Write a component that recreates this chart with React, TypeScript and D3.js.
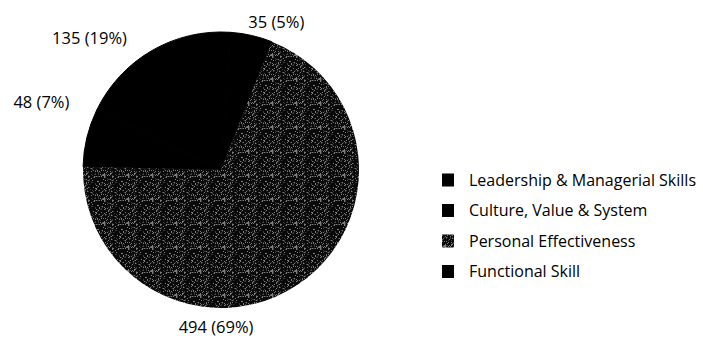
import React from "react";
import * as d3 from "d3";

const categories = [
  "Leadership & Managerial Skills",
  "Culture, Value & System",
  "Personal Effectiveness",
  "Functional Skill",
];
const values = [135, 35, 494, 48];
// fill style per category: "solid" black or "dither" grey texture
const fills = ["solid", "solid", "dither", "solid"];
// hand-placed label directions (degrees clockwise from top) and radii
const labelAngles = [324.5, 10.5, 181.8, 294];
const labelRadii = [162, 150, 157, 166];

const W = 703;
const H = 340;
const CX = 221;
const CY = 170;
const R = 138;
const START = -64.36;

function hash(i: number, j: number) {
  let h = (i * 374761393 + j * 668265263) >>> 0;
  h = ((h ^ (h >>> 13)) * 1274126177) >>> 0;
  return ((h ^ (h >>> 16)) >>> 0) / 4294967296;
}

const tile: { x: number; y: number; c: string }[] = [];
for (let i = 0; i < 24; i++) {
  for (let j = 0; j < 24; j++) {
    const v = hash(i, j);
    if (v < 0.13) tile.push({ x: i, y: j, c: "#7c7c7c" });
    else if (v < 0.25) tile.push({ x: i, y: j, c: "#3c3c3c" });
  }
}

export default function App() {
  const total = d3.sum(values);
  const pie = d3
    .pie<number>()
    .sort(null)
    .startAngle((START * Math.PI) / 180)
    .endAngle(((START + 360) * Math.PI) / 180);
  const arcs = pie(values);
  const arc = d3.arc<d3.PieArcDatum<number>>().innerRadius(0).outerRadius(R);
  const font = "'Open Sans', sans-serif";

  return (
    <svg width={W} height={H} style={{ position: "absolute", left: 0, top: 0, background: "#fff" }}>
      <defs>
        <pattern id="dither" patternUnits="userSpaceOnUse" width={24} height={24}>
          <rect width={24} height={24} fill="#0a0a0a" />
          {tile.map((p, k) => (
            <rect key={k} x={p.x} y={p.y} width={1} height={1} fill={p.c} />
          ))}
        </pattern>
      </defs>
      <g transform={`translate(${CX},${CY})`}>
        {arcs.map((a, i) =>
          fills[i] === "solid" ? (
            <path key={i} d={arc(a) || ""} fill="#000" stroke="#000" strokeWidth={1} strokeLinejoin="round" />
          ) : null
        )}
        {arcs.map((a, i) =>
          fills[i] === "dither" ? <path key={"d" + i} d={arc(a) || ""} fill="url(#dither)" /> : null
        )}
        {arcs.map((a, i) => {
          const ang = (labelAngles[i] * Math.PI) / 180;
          const x = Math.sin(ang) * labelRadii[i];
          const y = -Math.cos(ang) * labelRadii[i];
          const s = Math.sin(ang);
          const anchor = s > 0.05 ? "start" : s < -0.3 ? "end" : "middle";
          const pct = Math.round((values[i] / total) * 100);
          return (
            <text
              key={"l" + i}
              x={x}
              y={y}
              dy="0.35em"
              textAnchor={anchor}
              fontFamily={font}
              fontSize={16.5}
              fill="#000"
            >
              {`${values[i]} (${pct}%)`}
            </text>
          );
        })}
      </g>
      <g transform="translate(442,180)">
        {categories.map((c, i) => (
          <g key={c} transform={`translate(0,${i * 30.5})`}>
            <rect x={0} y={-6.5} width={12} height={13} fill={fills[i] === "dither" ? "url(#dither)" : "#000"} />
            <text x={27} y={0} dy="0.35em" fontFamily={font} fontSize={16} fill="#000">
              {c}
            </text>
          </g>
        ))}
      </g>
    </svg>
  );
}
